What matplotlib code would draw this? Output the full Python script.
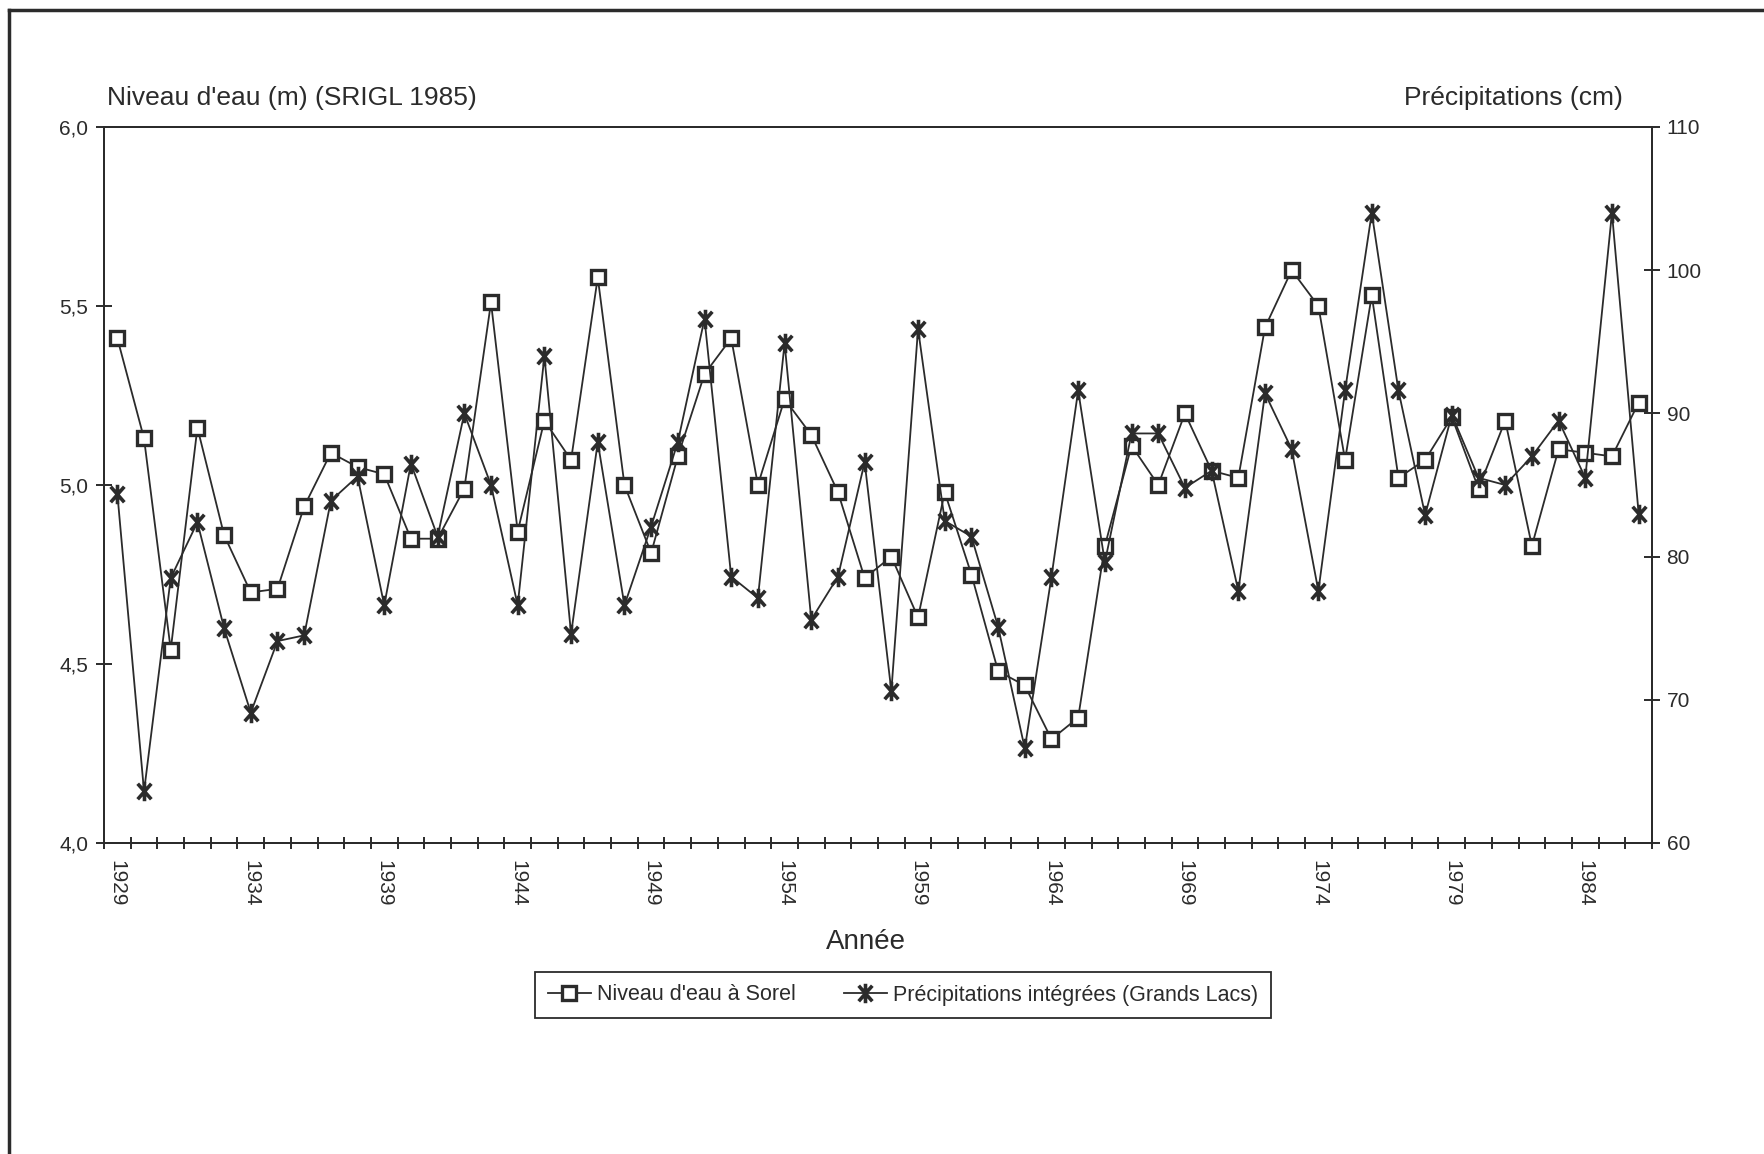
import numpy as np
import matplotlib
matplotlib.use("Agg")
import matplotlib.pyplot as plt
from matplotlib.path import Path
from matplotlib.lines import Line2D
from matplotlib.ticker import FixedLocator, FuncFormatter

plt.rcParams['font.family'] = ['Liberation Sans', 'DejaVu Sans']

years = list(range(1929, 1987))
niveau = [5.41, 5.13, 4.54, 5.16, 4.86, 4.70, 4.71, 4.94, 5.09, 5.05,
          5.03, 4.85, 4.85, 4.99, 5.51, 4.87, 5.18, 5.07, 5.58, 5.00,
          4.81, 5.08, 5.31, 5.41, 5.00, 5.24, 5.14, 4.98, 4.74, 4.80,
          4.63, 4.98, 4.75, 4.48, 4.44, 4.29, 4.35, 4.83, 5.11, 5.00,
          5.20, 5.04, 5.02, 5.44, 5.60, 5.50, 5.07, 5.53, 5.02, 5.07,
          5.19, 4.99, 5.18, 4.83, 5.10, 5.09, 5.08, 5.23]
precip = [84.4, 63.6, 78.5, 82.4, 75.0, 69.1, 74.1, 74.5, 83.9, 85.6,
          76.6, 86.5, 81.4, 90.0, 85.0, 76.6, 94.0, 74.6, 88.0, 76.6,
          82.1, 88.0, 96.6, 78.6, 77.1, 94.9, 75.6, 78.6, 86.6, 70.6,
          95.9, 82.5, 81.4, 75.1, 66.6, 78.6, 91.6, 79.6, 88.6, 88.6,
          84.8, 86.0, 77.6, 91.4, 87.5, 77.6, 91.6, 104.0, 91.6, 82.9,
          89.9, 85.5, 85.0, 87.0, 89.5, 85.5, 104.0, 83.0]
label_years = list(range(1929, 1985, 5))

ink = '#2b2b2b'

# asterisk marker: vertical bar + X
star = Path([(0, -1), (0, 1), (-0.7, -0.8), (0.7, 0.8), (-0.7, 0.8), (0.7, -0.8)],
            [Path.MOVETO, Path.LINETO, Path.MOVETO, Path.LINETO, Path.MOVETO, Path.LINETO])

W, H = 1765, 1154
fig = plt.figure(figsize=(W / 100, H / 100), dpi=100)
ax = fig.add_axes([104 / W, 1 - 843 / H, (1652 - 104) / W, (843 - 127) / H])
ax2 = ax.twinx()

l1, = ax.plot(years, niveau, color=ink, lw=1.3, marker='s', ms=10.5,
              mfc='white', mec=ink, mew=2.4)
l2, = ax2.plot(years, precip, color=ink, lw=1.3, marker=star, ms=14,
               mec=ink, mew=2.6)

ax.set_xlim(1928.5, 1986.5)
ax.set_ylim(4.0, 6.0)
ax2.set_ylim(60, 110)
ax.set_yticks(np.arange(4.0, 6.01, 0.5))
ax2.set_yticks(np.arange(60, 111, 10))
ax.yaxis.set_major_formatter(FuncFormatter(lambda v, p: ('%.1f' % v).replace('.', ',')))

ax.xaxis.set_major_locator(FixedLocator(np.arange(1928.5, 1987, 1)))
ax.xaxis.set_major_formatter(FuncFormatter(lambda v, p: ''))
ax.xaxis.set_minor_locator(FixedLocator(label_years))
ax.xaxis.set_minor_formatter(FuncFormatter(lambda v, p: '%d' % v))
ax.tick_params(axis='x', which='major', direction='inout', length=9, width=1.4, color=ink)
ax.tick_params(axis='x', which='minor', length=0, pad=12, labelsize=15,
               labelrotation=270, labelcolor=ink)
ax.tick_params(axis='y', direction='inout', length=11, width=1.4, color=ink,
               labelsize=15, labelcolor=ink, pad=6)
ax2.tick_params(axis='y', direction='inout', length=11, width=1.4, color=ink,
                labelsize=15, labelcolor=ink, pad=5)

for a in (ax, ax2):
    for s in a.spines.values():
        s.set_color(ink)
        s.set_linewidth(1.4)

fig.text(107 / W, 1 - 98 / H, "Niveau d'eau (m) (SRIGL 1985)", fontsize=19,
         color=ink, ha='left', va='center')
fig.text(1623 / W, 1 - 98 / H, "Précipitations (cm)", fontsize=19,
         color=ink, ha='right', va='center')
fig.text(866 / W, 1 - 942 / H, "Année", fontsize=20, color=ink,
         ha='center', va='center')

leg = fig.legend([l1, l2], ["Niveau d'eau à Sorel", "Précipitations intégrées (Grands Lacs)"],
                 loc='center', bbox_to_anchor=(903 / W, 1 - 995 / H), ncol=2,
                 fontsize=15.5, fancybox=False, framealpha=1, edgecolor=ink,
                 handlelength=2.0, handletextpad=0.3, columnspacing=2.2,
                 borderpad=0.6, borderaxespad=0)
leg.get_frame().set_linewidth(1.3)
for t in leg.get_texts():
    t.set_color(ink)

# scanned page border (left and top edges)
fig.add_artist(Line2D([9 / W, 9 / W], [0, 1 - 10 / H], color=ink, lw=2.5))
fig.add_artist(Line2D([9 / W, 1], [1 - 10 / H, 1 - 10 / H], color=ink, lw=2.5))

fig.savefig('out.png', dpi=100)
